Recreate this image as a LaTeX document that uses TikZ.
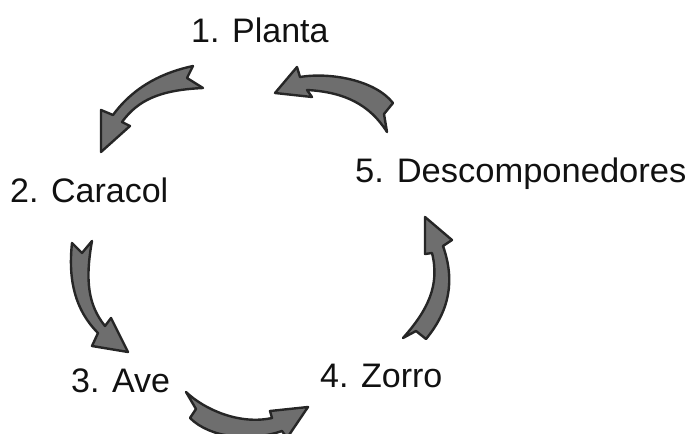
\documentclass[tikz,border=0pt]{standalone}
\usepackage{fontspec}
\setmainfont{Liberation Sans}
\definecolor{inkdark}{HTML}{262626}
\definecolor{inkfill}{HTML}{6E6E6E}
\definecolor{txt}{HTML}{111111}
\begin{document}
\begin{tikzpicture}[x=1pt,y=-1pt,
  lbl/.style={anchor=base west,inner sep=0pt,text=txt,font=\fontsize{34}{40}\selectfont},
  arrowshape/.style={fill=inkfill,draw=inkdark,line width=2.4pt,line join=round}]
\useasboundingbox (0,0) rectangle (694,434);
\clip (0,0) rectangle (694,434);
\node[lbl] (planta) at (191,42) {1. Planta};
\node[lbl] (caracol) at (10,202) {2. Caracol};
\node[lbl] (ave) at (71,392) {3. Ave};
\node[lbl] (zorro) at (320,387) {4. Zorro};
\node[lbl] (desc) at (355,182) {\scalebox{1.015}[1]{5. Descomponedores}};
% arrow 1: Planta -> Caracol
\draw[arrowshape] (193,66) .. controls (165,72) and (135,85) .. (113,115)
  -- (101,110) -- (101,152) -- (130,126) -- (122,122)
  .. controls (138,100) and (160,90) .. (203,88) -- (187,78) -- cycle;
% arrow 2: Descomponedores -> Planta
\draw[arrowshape] (275,93) -- (297,67) -- (300,77)
  .. controls (330,72) and (375,80) .. (393,103) -- (384,114) -- (387,132)
  .. controls (370,105) and (345,92) .. (307,90) -- (312,97) -- cycle;
% arrow 3: Caracol -> Ave
\draw[arrowshape] (72,243) .. controls (68,280) and (75,310) .. (98,333)
  -- (92,346) -- (128,352) -- (111,318) -- (105,326)
  .. controls (88,305) and (85,280) .. (92,241) -- (82,253) -- cycle;
% arrow 4: Ave -> Zorro
\draw[arrowshape] (186,392) .. controls (205,410) and (240,425) .. (272,418)
  -- (270,411) -- (308,407) -- (287,438) -- (282,431)
  .. controls (250,442) and (210,438) .. (190,418) -- (196,409) -- cycle;
% arrow 5: Zorro -> Descomponedores
\draw[arrowshape] (425,217) -- (452,240) -- (443,246)
  .. controls (455,280) and (450,310) .. (426,339) -- (416,331) -- (403,338)
  .. controls (428,310) and (440,285) .. (432,253) -- (425,254) -- cycle;
\end{tikzpicture}
\end{document}
